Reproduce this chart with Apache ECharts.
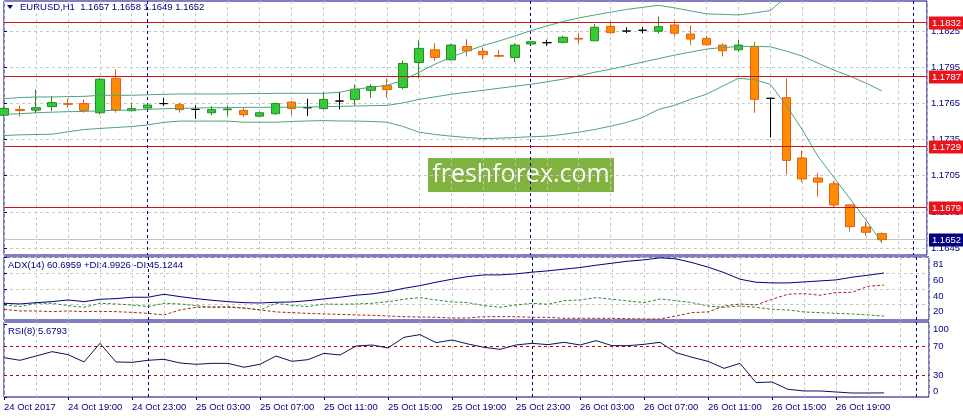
<!DOCTYPE html>
<html><head><meta charset="utf-8">
<script src="https://cdn.jsdelivr.net/npm/echarts@6/dist/echarts.min.js"></script>
<style>html,body{margin:0;padding:0;background:#fff}#c{width:963px;height:419px}</style>
</head><body><div id="c"></div>
<script>
const symbol = 'EURUSD,H1';
// hourly bars, 24 Oct 15:00 .. 26 Oct 22:00 (bar index 0..55)
const opens = [1.17552,1.17600,1.17594,1.17623,1.17648,1.17648,1.17572,1.17858,1.17589,1.17611,
 1.17648,1.17639,1.17600,1.17572,1.17597,1.17592,1.17544,1.17564,1.17661,1.17614,
 1.17606,1.17669,1.17683,1.17758,1.17797,1.17781,1.17989,1.18094,1.18011,1.18122,
 1.18081,1.18047,1.18031,1.18142,1.18153,1.18156,1.18189,1.18169,1.18289,1.18250,
 1.18256,1.18248,1.18300,1.18225,1.18189,1.18133,1.18094,1.18122,1.17692,1.17697,
 1.17197,1.17031,1.16983,1.16808,1.16625,1.16570];
const highs = [1.17620,1.17630,1.17767,1.17711,1.17689,1.17683,1.17861,1.17933,1.17656,1.17648,
 1.17694,1.17656,1.17633,1.17628,1.17628,1.17614,1.17580,1.17656,1.17669,1.17689,
 1.17744,1.17744,1.17808,1.17808,1.17856,1.18003,1.18175,1.18150,1.18144,1.18183,
 1.18114,1.18094,1.18147,1.18167,1.18178,1.18211,1.18231,1.18308,1.18328,1.18281,
 1.18281,1.18370,1.18336,1.18294,1.18211,1.18147,1.18175,1.18161,1.17692,1.17858,
 1.17258,1.17072,1.17008,1.16814,1.16669,1.16580];
const lows = [1.17540,1.17540,1.17567,1.17586,1.17614,1.17572,1.17558,1.17572,1.17586,1.17606,
 1.17628,1.17572,1.17522,1.17552,1.17544,1.17539,1.17539,1.17556,1.17550,1.17544,
 1.17600,1.17600,1.17633,1.17697,1.17697,1.17767,1.17858,1.18003,1.18006,1.18039,
 1.18011,1.18031,1.17994,1.18136,1.18128,1.18147,1.18147,1.18167,1.18228,1.18233,
 1.18231,1.18230,1.18203,1.18133,1.18128,1.18039,1.18078,1.17572,1.17367,1.17058,
 1.16994,1.16877,1.16789,1.16586,1.16553,1.16490];
const closes = [1.17608,1.17590,1.17614,1.17656,1.17642,1.17592,1.17850,1.17594,1.17606,1.17636,
 1.17648,1.17598,1.17600,1.17598,1.17603,1.17556,1.17572,1.17648,1.17606,1.17614,
 1.17683,1.17669,1.17767,1.17789,1.17764,1.17981,1.18106,1.18031,1.18133,1.18086,
 1.18053,1.18041,1.18133,1.18161,1.18153,1.18198,1.18183,1.18281,1.18236,1.18250,
 1.18256,1.18286,1.18231,1.18183,1.18136,1.18086,1.18133,1.17683,1.17692,1.17177,
 1.17023,1.16997,1.16808,1.16628,1.16581,1.16520];
const bandUpper = [1.17689,1.17698,1.17703,1.17703,1.17706,1.17708,1.17717,1.17717,1.17717,1.17721,
 1.17725,1.17728,1.17728,1.17728,1.17728,1.17731,1.17731,1.17733,1.17733,1.17733,
 1.17733,1.17742,1.17767,1.17783,1.17800,1.17842,1.17908,1.17975,1.18033,1.18083,
 1.18129,1.18167,1.18208,1.18253,1.18292,1.18328,1.18358,1.18383,1.18406,1.18429,
 1.18446,1.18463,1.18442,1.18417,1.18392,1.18388,1.18383,1.18400,1.18419,1.18533,
 1.18650,1.18758,1.18817,1.18892,1.18950,1.19013];
const bandMiddle = [1.17558,1.17564,1.17572,1.17577,1.17581,1.17583,1.17589,1.17592,1.17594,1.17600,
 1.17606,1.17608,1.17611,1.17614,1.17614,1.17617,1.17617,1.17617,1.17619,1.17619,
 1.17623,1.17625,1.17628,1.17631,1.17633,1.17654,1.17683,1.17704,1.17725,1.17742,
 1.17758,1.17775,1.17792,1.17808,1.17829,1.17850,1.17878,1.17908,1.17933,1.17963,
 1.17992,1.18021,1.18050,1.18075,1.18100,1.18113,1.18121,1.18123,1.18119,1.18083,
 1.18042,1.17983,1.17925,1.17875,1.17817,1.17753];
const bandLower = [1.17383,1.17389,1.17392,1.17394,1.17414,1.17433,1.17442,1.17450,1.17458,1.17471,
 1.17492,1.17503,1.17503,1.17503,1.17503,1.17494,1.17494,1.17494,1.17500,1.17504,
 1.17507,1.17504,1.17503,1.17500,1.17494,1.17458,1.17411,1.17392,1.17378,1.17367,
 1.17358,1.17361,1.17367,1.17373,1.17378,1.17392,1.17411,1.17433,1.17461,1.17492,
 1.17533,1.17600,1.17633,1.17683,1.17725,1.17792,1.17858,1.17846,1.17808,1.17633,
 1.17433,1.17208,1.17033,1.16858,1.16683,1.16492];
const adx = [21.6,20.7,22.4,23.7,25.9,23.7,26.8,27.6,29.4,29.4,
 33.3,30.2,27.6,25.5,23.7,22.4,22.0,22.9,23.3,25.0,
 27.2,29.4,32.0,33.7,36.7,41.0,44.4,48.8,52.7,56.1,
 58.3,58.3,59.6,61.8,63.5,65.7,67.8,70.8,73.4,76.0,
 77.7,80.3,79.0,74.2,68.3,61.3,52.7,48.8,47.9,47.9,
 49.2,50.5,51.8,55.3,57.9,60.6959];
const plusDI = [19.4,17.3,21.6,21.6,18.6,16.4,21.6,20.7,19.4,17.3,
 21.6,20.7,18.6,16.4,17.3,15.5,13.0,21.6,18.9,17.3,
 20.7,20.3,20.7,21.6,23.7,26.8,28.9,25.9,23.3,22.4,
 18.6,16.4,19.4,21.6,20.3,25.0,25.9,28.9,26.8,24.6,
 22.4,27.2,25.0,22.4,18.1,16.4,18.1,16.4,13.8,13.0,
 10.4,9.5,8.6,7.8,6.5,4.9926];
const minusDI = [13.8,11.7,11.7,10.8,11.7,10.8,11.2,10.8,9.9,8.6,
 6.5,13.0,16.4,16.8,16.4,15.5,13.0,10.4,9.5,8.6,
 7.8,7.3,6.5,6.0,5.2,4.3,3.9,3.5,2.6,2.6,
 4.3,4.3,4.3,3.5,3.5,2.2,2.2,2.2,2.2,1.7,
 1.3,1.3,5.2,9.5,10.4,18.1,20.7,19.4,26.8,33.3,
 34.1,32.0,35.4,35.8,43.6,45.1244];
const rsi = [54.2,50.6,56.5,62.5,58.4,48.3,74.0,48.3,47.8,50.6,
 52.0,46.9,45.1,46.4,46.4,41.0,45.1,56.5,49.2,51.5,
 60.2,57.9,70.3,71.7,67.6,82.3,86.0,74.9,78.6,73.1,
 68.5,65.7,71.7,74.0,72.2,75.4,71.7,77.7,70.8,70.8,
 72.6,75.4,61.2,54.7,49.2,39.5,46.4,19.8,20.7,10.6,
 8.3,8.3,6.9,5.5,5.5,5.6793];
const levels = [1.1832, 1.1787, 1.1729, 1.1679];
const bid = [1.1652];
const rsiLevels = [70, 30];
const separators = [9, 33, 57];           // bar index of 25 Oct, 26 Oct, 27 Oct 00:00
const priceTicks = [1.1645, 1.1675, 1.1705, 1.1735, 1.1765, 1.1795, 1.1825];
const adxTicks = [20, 40, 60, 81];
const rsiTicks = [0, 30, 70, 100];
const timeTickBars = [0, 4, 8, 12, 16, 20, 24, 28, 32, 36, 40, 44, 48, 52];
const timeTickLabels = ['24 Oct 2017','24 Oct 19:00','24 Oct 23:00','25 Oct 03:00','25 Oct 07:00',
 '25 Oct 11:00','25 Oct 15:00','25 Oct 19:00','25 Oct 23:00','26 Oct 03:00','26 Oct 07:00',
 '26 Oct 11:00','26 Oct 15:00','26 Oct 19:00'];

const NAVY = '#000080', GRIDC = '#c8c8c8', FONT = '"Liberation Sans", Arial, sans-serif';
const FS = 9.5;
const last = opens.length - 1;
const XMAX = 57.8125;
const snap = v => Math.round(v - 0.5) + 0.5;

function xAx(gi, extra) {
  return Object.assign({type:'value', gridIndex:gi, position:'bottom', min:0, max:XMAX, interval:2,
    axisLine:{show:false}, axisTick:{show:false}, axisLabel:{show:false},
    splitLine:{show:true, lineStyle:{color:GRIDC, type:[3,3], width:1}}}, extra || {});
}
const pairs = arr => arr.map((v, i) => [i, v]);

// horizontal price/level lines (crisp), optional value box at right
function hLines(ai, values, color, dash, boxBg, z) {
  return {type:'custom', xAxisIndex:ai, yAxisIndex:ai, z:z, silent:true, clip:false,
    data: values.map(v => [v]), encode:{y:0},
    renderItem: (params, api) => {
      const cs = params.coordSys;
      const y = snap(api.coord([0, api.value(0)])[1]);
      const kids = [{type:'line', shape:{x1:cs.x, y1:y, x2:cs.x + cs.width, y2:y},
        style:{stroke:color, lineWidth:1, lineDash:dash || null}}];
      if (boxBg) kids.push({type:'text', x:cs.x + cs.width + 2, y:y + 0.5,
        style:{text:Number(api.value(0)).toFixed(4), fill:'#ffffff', backgroundColor:boxBg,
          padding:[2,3,1,3], fontSize:FS, fontFamily:FONT, align:'left', verticalAlign:'middle'}});
      return {type:'group', children:kids};
    }};
}
// vertical day separators (crisp)
function vLines(ai) {
  return {type:'custom', xAxisIndex:ai, yAxisIndex:ai, z:1, silent:true, clip:false,
    data: separators.map(b => [b]), encode:{x:0},
    renderItem: (params, api) => {
      const cs = params.coordSys;
      const x = snap(api.coord([api.value(0), 0])[0]);
      return {type:'line', shape:{x1:x, y1:cs.y, x2:x, y2:cs.y + cs.height},
        style:{stroke:NAVY, lineWidth:1, lineDash:[3,3]}};
    }};
}

const chart = echarts.init(document.getElementById('c'));
chart.setOption({
  animation:false,
  backgroundColor:'#ffffff',
  title:[
    {text:`${symbol}  ${opens[last].toFixed(4)} ${highs[last].toFixed(4)} ${lows[last].toFixed(4)} ${closes[last].toFixed(4)}`,
     left:20, top:2, padding:0, textStyle:{fontSize:FS, fontFamily:FONT, color:NAVY, fontWeight:'normal'}},
    {text:`ADX(14) ${adx[last].toFixed(4)} +DI:${plusDI[last].toFixed(4)} -DI:${minusDI[last].toFixed(4)}`,
     left:8, top:260, padding:0, textStyle:{fontSize:FS, fontFamily:FONT, color:NAVY, fontWeight:'normal'}},
    {text:`RSI(8) ${rsi[last].toFixed(4)}`,
     left:8, top:326, padding:0, textStyle:{fontSize:FS, fontFamily:FONT, color:NAVY, fontWeight:'normal'}}
  ],
  graphic:[
    {type:'polygon', shape:{points:[[7,5],[13,5],[10,9]]}, style:{fill:NAVY}, silent:true},
    {type:'group', left:428, top:158, z:50, children:[
      {type:'rect', shape:{x:0, y:0, width:186, height:34}, style:{fill:'#82B23F'}},
      {type:'text', x:93, y:17, style:{text:'freshforex.com', fill:'#ffffff', fontSize:25,
        fontFamily:'"Open Sans", "Noto Sans", sans-serif', align:'center', verticalAlign:'middle'}}
    ]}
  ],
  grid:[
    {left:4, right:34, top:1, height:254, show:true, borderColor:NAVY, borderWidth:1},
    {left:4, right:34, top:257, height:63, show:true, borderColor:NAVY, borderWidth:1},
    {left:4, right:34, top:322, height:75, show:true, borderColor:NAVY, borderWidth:1}
  ],
  xAxis:[
    xAx(0), xAx(1), xAx(2),
    {type:'value', gridIndex:2, position:'bottom', min:0, max:XMAX,
     axisLine:{show:false}, splitLine:{show:false},
     axisTick:{show:true, length:3, customValues:timeTickBars, lineStyle:{color:NAVY}},
     axisLabel:{show:true, customValues:timeTickBars, align:'left', margin:5, color:NAVY, fontSize:FS, fontFamily:FONT,
       formatter: v => timeTickLabels[timeTickBars.indexOf(v)] || ''}}
  ],
  yAxis:[
    {type:'value', gridIndex:0, position:'right', min:1.163926, max:1.184988, scale:true,
     axisLine:{show:false},
     axisTick:{show:true, length:3, customValues:priceTicks, lineStyle:{color:NAVY}},
     axisLabel:{customValues:priceTicks, formatter: v => v.toFixed(4), color:NAVY, fontSize:FS, fontFamily:FONT, margin:4},
     splitLine:{show:true, lineStyle:{color:GRIDC, type:[3,3], width:1}}},
    {type:'value', gridIndex:1, position:'right', min:0, max:81.4,
     axisLine:{show:false},
     axisTick:{show:true, length:3, customValues:adxTicks, lineStyle:{color:NAVY}},
     axisLabel:{customValues:adxTicks, verticalAlign:'top', padding:[2,0,0,0], color:NAVY, fontSize:FS, fontFamily:FONT, margin:4},
     splitLine:{show:true, lineStyle:{color:GRIDC, type:[3,3], width:1}}},
    {type:'value', gridIndex:2, position:'right', min:0, max:103.4,
     axisLine:{show:false},
     axisTick:{show:true, length:3, customValues:rsiTicks, lineStyle:{color:NAVY}},
     axisLabel:{customValues:rsiTicks, color:NAVY, fontSize:FS, fontFamily:FONT, margin:4,
       formatter: v => v === 100 ? '{t|100}' : (v === 0 ? '{b|0}' : String(v)),
       rich:{t:{padding:[9,0,0,0], fontSize:FS, fontFamily:FONT, color:NAVY},
             b:{padding:[0,0,12,0], fontSize:FS, fontFamily:FONT, color:NAVY}}},
     splitLine:{show:false}}
  ],
  series:[
    vLines(0), vLines(1), vLines(2),
    hLines(0, bid, '#c4c4c4', null, NAVY, 1),
    {type:'candlestick', xAxisIndex:0, yAxisIndex:0, barWidth:9, clip:true, z:3,
     data: opens.map((o, i) => [i, o, closes[i], lows[i], highs[i]]),
     encode:{x:0, y:[1,2,3,4]},
     itemStyle:{color:'#32CD32', color0:'#FF8C00', borderColor:'#228B22', borderColor0:'#E0601A',
       borderColorDoji:'#000000', borderWidth:1}},
    {type:'line', xAxisIndex:0, yAxisIndex:0, data:pairs(bandUpper), showSymbol:false, clip:true, z:4,
     lineStyle:{color:'#4aa57c', width:1}, itemStyle:{color:'#4aa57c'}},
    {type:'line', xAxisIndex:0, yAxisIndex:0, data:pairs(bandMiddle), showSymbol:false, clip:true, z:4,
     lineStyle:{color:'#4aa57c', width:1}, itemStyle:{color:'#4aa57c'}},
    {type:'line', xAxisIndex:0, yAxisIndex:0, data:pairs(bandLower), showSymbol:false, clip:true, z:4,
     lineStyle:{color:'#4aa57c', width:1}, itemStyle:{color:'#4aa57c'}},
    hLines(0, levels, '#CC1414', null, '#E8141B', 5),
    {type:'line', xAxisIndex:1, yAxisIndex:1, data:pairs(plusDI), showSymbol:false,
     lineStyle:{color:'#2E8B2E', width:1, type:[3,2]}, itemStyle:{color:'#2E8B2E'}},
    {type:'line', xAxisIndex:1, yAxisIndex:1, data:pairs(minusDI), showSymbol:false,
     lineStyle:{color:'#B22222', width:1, type:[3,2]}, itemStyle:{color:'#B22222'}},
    {type:'line', xAxisIndex:1, yAxisIndex:1, data:pairs(adx), showSymbol:false,
     lineStyle:{color:NAVY, width:1}, itemStyle:{color:NAVY}},
    hLines(2, rsiLevels, '#C00000', [3,3], null, 1),
    {type:'line', xAxisIndex:2, yAxisIndex:2, data:pairs(rsi), showSymbol:false,
     lineStyle:{color:'#10105a', width:1}, itemStyle:{color:'#10105a'}}
  ]
});
</script>
</body></html>
